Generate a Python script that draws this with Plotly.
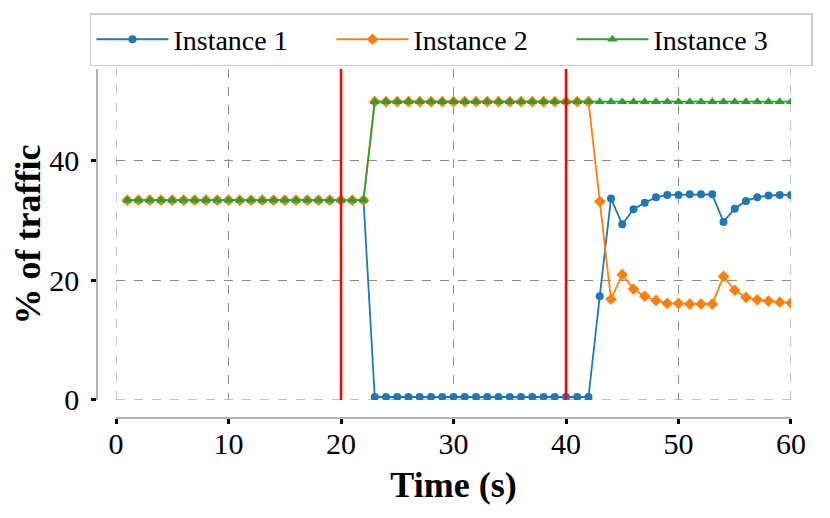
import plotly.graph_objects as go

# time axis (seconds) and traffic share per instance (%)
time_s = list(range(1, 61))

instance1 = ([33.33] * 22 + [0.5] * 20 +
             [17.3, 33.6, 29.3, 31.8, 32.9, 33.8, 34.2, 34.2, 34.3, 34.3, 34.3,
              29.7, 31.9, 33.2, 33.8, 34.1, 34.2, 34.2])
instance2 = ([33.33] * 22 + [49.75] * 20 +
             [33.1, 16.8, 20.9, 18.5, 17.3, 16.6, 16.1, 16.1, 16.0, 16.0, 16.0,
              20.6, 18.3, 17.1, 16.7, 16.5, 16.3, 16.2])
instance3 = [33.33] * 22 + [49.75] * 38

event_times = [20, 40]
x_ticks = [0, 10, 20, 30, 40, 50, 60]
y_ticks = [0, 20, 40]

series = [
    ('Instance 1', instance1, '#1f77b4', 'circle', 8),
    ('Instance 2', instance2, '#ff7f0e', 'diamond', 9),
    ('Instance 3', instance3, '#2ca02c', 'triangle-up', 9),
]

font_family = 'Liberation Serif, serif'
grid_color = '#8c8c8c'

fig = go.Figure()

for name, values, color, symbol, size in series:
    fig.add_trace(go.Scatter(
        x=time_s,
        y=values,
        mode='lines+markers',
        name=name,
        line=dict(color=color, width=1.8),
        marker=dict(symbol=symbol, size=size, color=color),
    ))

# grid lines sitting on the edges of the plot area (plotly skips those)
fig.add_hline(y=y_ticks[0], line=dict(color=grid_color, width=1, dash='dash'), layer='below')
fig.add_vline(x=x_ticks[0], line=dict(color=grid_color, width=1, dash='dash'), layer='below')
fig.add_vline(x=x_ticks[-1], line=dict(color=grid_color, width=1, dash='dash'), layer='below')

# reconfiguration events
for t in event_times:
    fig.add_vline(x=t, line_color='red', line_width=2.5)

fig.update_layout(
    width=822,
    height=510,
    margin=dict(l=82, r=39, t=61, b=95, autoexpand=False),
    plot_bgcolor='white',
    paper_bgcolor='white',
    font=dict(family=font_family, color='black'),
    showlegend=True,
    legend=dict(
        orientation='h',
        x=-0.0001, xanchor='left',
        y=1.158, yanchor='top',
        font=dict(size=28, family=font_family),
        bordercolor='#cccccc',
        borderwidth=1.5,
        itemwidth=72,
        entrywidth=153,
        entrywidthmode='pixels',
        bgcolor='white',
    ),
)

fig.update_xaxes(
    domain=[0.0371, 1],
    anchor='free',
    position=0.0141,
    range=[0, 60],
    tickvals=x_ticks,
    tickfont=dict(size=30),
    ticks='outside',
    ticklen=5,
    tickwidth=2.5,
    tickcolor='black',
    ticklabelstandoff=-6,
    showline=True,
    linecolor='#b3b3b3',
    linewidth=1.5,
    showgrid=True,
    gridcolor=grid_color,
    griddash='dash',
    gridwidth=1,
    zeroline=False,
    title=dict(text='<b>Time (s)</b>', font=dict(size=36), standoff=12),
)

fig.update_yaxes(
    domain=[0.065, 1],
    anchor='free',
    position=0.01,
    range=[0, 55.2],
    tickvals=y_ticks,
    tickfont=dict(size=30),
    ticks='outside',
    ticklen=5,
    tickwidth=2.5,
    tickcolor='black',
    ticklabelstandoff=6,
    showline=True,
    linecolor='#b3b3b3',
    linewidth=1.5,
    showgrid=True,
    gridcolor=grid_color,
    griddash='dash',
    gridwidth=1,
    zeroline=False,
    title=dict(text='<b>% of traffic</b>', font=dict(size=36), standoff=6),
)

fig.write_html('out.html')
